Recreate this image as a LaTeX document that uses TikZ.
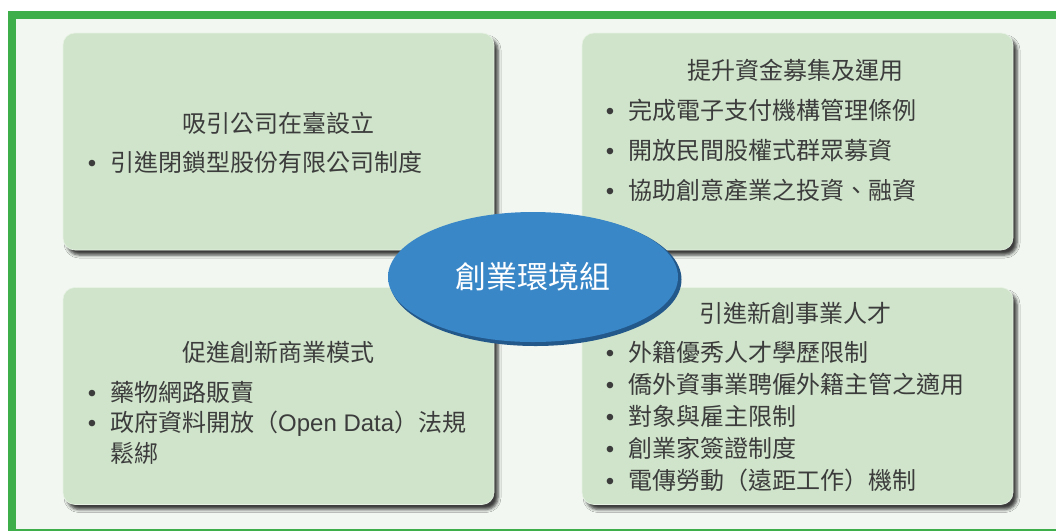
\documentclass[tikz,border=0pt]{standalone}
\usepackage{fontspec}
\newfontfamily\cjk{Noto Sans CJK TC}
\newfontfamily\latin{Liberation Sans}
\usetikzlibrary{shapes.geometric,shadows.blur}

\definecolor{framegreen}{HTML}{3DAE4A}
\definecolor{paper}{HTML}{F2F7F1}
\definecolor{panelgreen}{HTML}{CFE4CA}
\definecolor{inktext}{HTML}{3C3C3C}
\definecolor{ovalblue}{HTML}{3A87C8}
\definecolor{ovalrim}{HTML}{7BB1DF}
\definecolor{ovaldark}{HTML}{23588B}
\pgfdeclareradialshading{ovalshade}{\pgfpoint{0bp}{0bp}}{color(0bp)=(ovalblue); color(38bp)=(ovalblue); color(50bp)=(ovalrim)}

\tikzset{
  panel/.style={fill=panelgreen, draw=panelgreen!50!white, line width=0.6pt,
    rounded corners=12pt, minimum width=431pt, minimum height=217pt,
    blur shadow={shadow xshift=4pt, shadow yshift=-5pt, shadow blur radius=3pt, shadow opacity=75}},
  head/.style={font=\cjk\fontsize{24}{28}\selectfont, text=inktext, inner sep=0pt},
  item/.style={head, anchor=base west},
  bulletmark/.style={head, font=\latin\fontsize{24}{28}\selectfont, anchor=base},
}

\begin{document}
\begin{tikzpicture}[x=1pt,y=-1pt]
  \useasboundingbox (0,0) rectangle (1056,531);
  \fill[white] (0,0) rectangle (1056,531);
  \fill[framegreen] (8,11) rectangle (1056,531);
  \fill[paper] (16,19) rectangle (1056,529);

  % four fields
  \node[panel] (attract) at (278.5,141.5) {};
  \node[panel] (funding) at (797.5,141.5) {};
  \node[panel] (business) at (278.5,396) {};
  \node[panel] (talent) at (797.5,396) {};

  % centre oval
  \node[ellipse, fill=ovaldark, minimum width=292pt, minimum height=133pt] (core-rim) at (535.5,279.5) {};
  \node[ellipse, shading=ovalshade, minimum width=290pt, minimum height=130pt,
    text=white, font=\cjk\fontsize{31}{36}\selectfont] (core) at (533,277) {創業環境組};

  % top left
  \node[head] (attract-title) at (278.5,123) {吸引公司在臺設立};
  \node[bulletmark] (attract-b1) at (92,171) {•};
  \node[item] (attract-1) at (110,171) {引進閉鎖型股份有限公司制度};

  % top right
  \node[head] (funding-title) at (795.5,70) {提升資金募集及運用};
  \foreach \txt [count=\i] in {完成電子支付機構管理條例, 開放民間股權式群眾募資, 協助創意產業之投資、融資} {
    \node[bulletmark] (funding-b\i) at (610,79+40*\i) {•};
    \node[item] (funding-\i) at (628,79+40*\i) {\txt};
  }

  % bottom left
  \node[head] (business-title) at (278.5,352) {促進創新商業模式};
  \node[bulletmark] (business-b1) at (92,401) {•};
  \node[item] (business-1) at (110,401) {藥物網路販賣};
  \node[bulletmark] (business-b2) at (92,431) {•};
  \node[item] (business-2) at (110,431) {政府資料開放（{\latin Open Data}）法規};
  \node[item] (business-3) at (110,462) {鬆綁};

  % bottom right
  \node[head] (talent-title) at (795.5,313) {引進新創事業人才};
  \foreach \txt [count=\i] in {外籍優秀人才學歷限制, 僑外資事業聘僱外籍主管之適用, 對象與雇主限制, 創業家簽證制度, 電傳勞動（遠距工作）機制} {
    \node[bulletmark] (talent-b\i) at (610,329+32*\i) {•};
    \node[item] (talent-\i) at (628,329+32*\i) {\txt};
  }
\end{tikzpicture}
\end{document}
